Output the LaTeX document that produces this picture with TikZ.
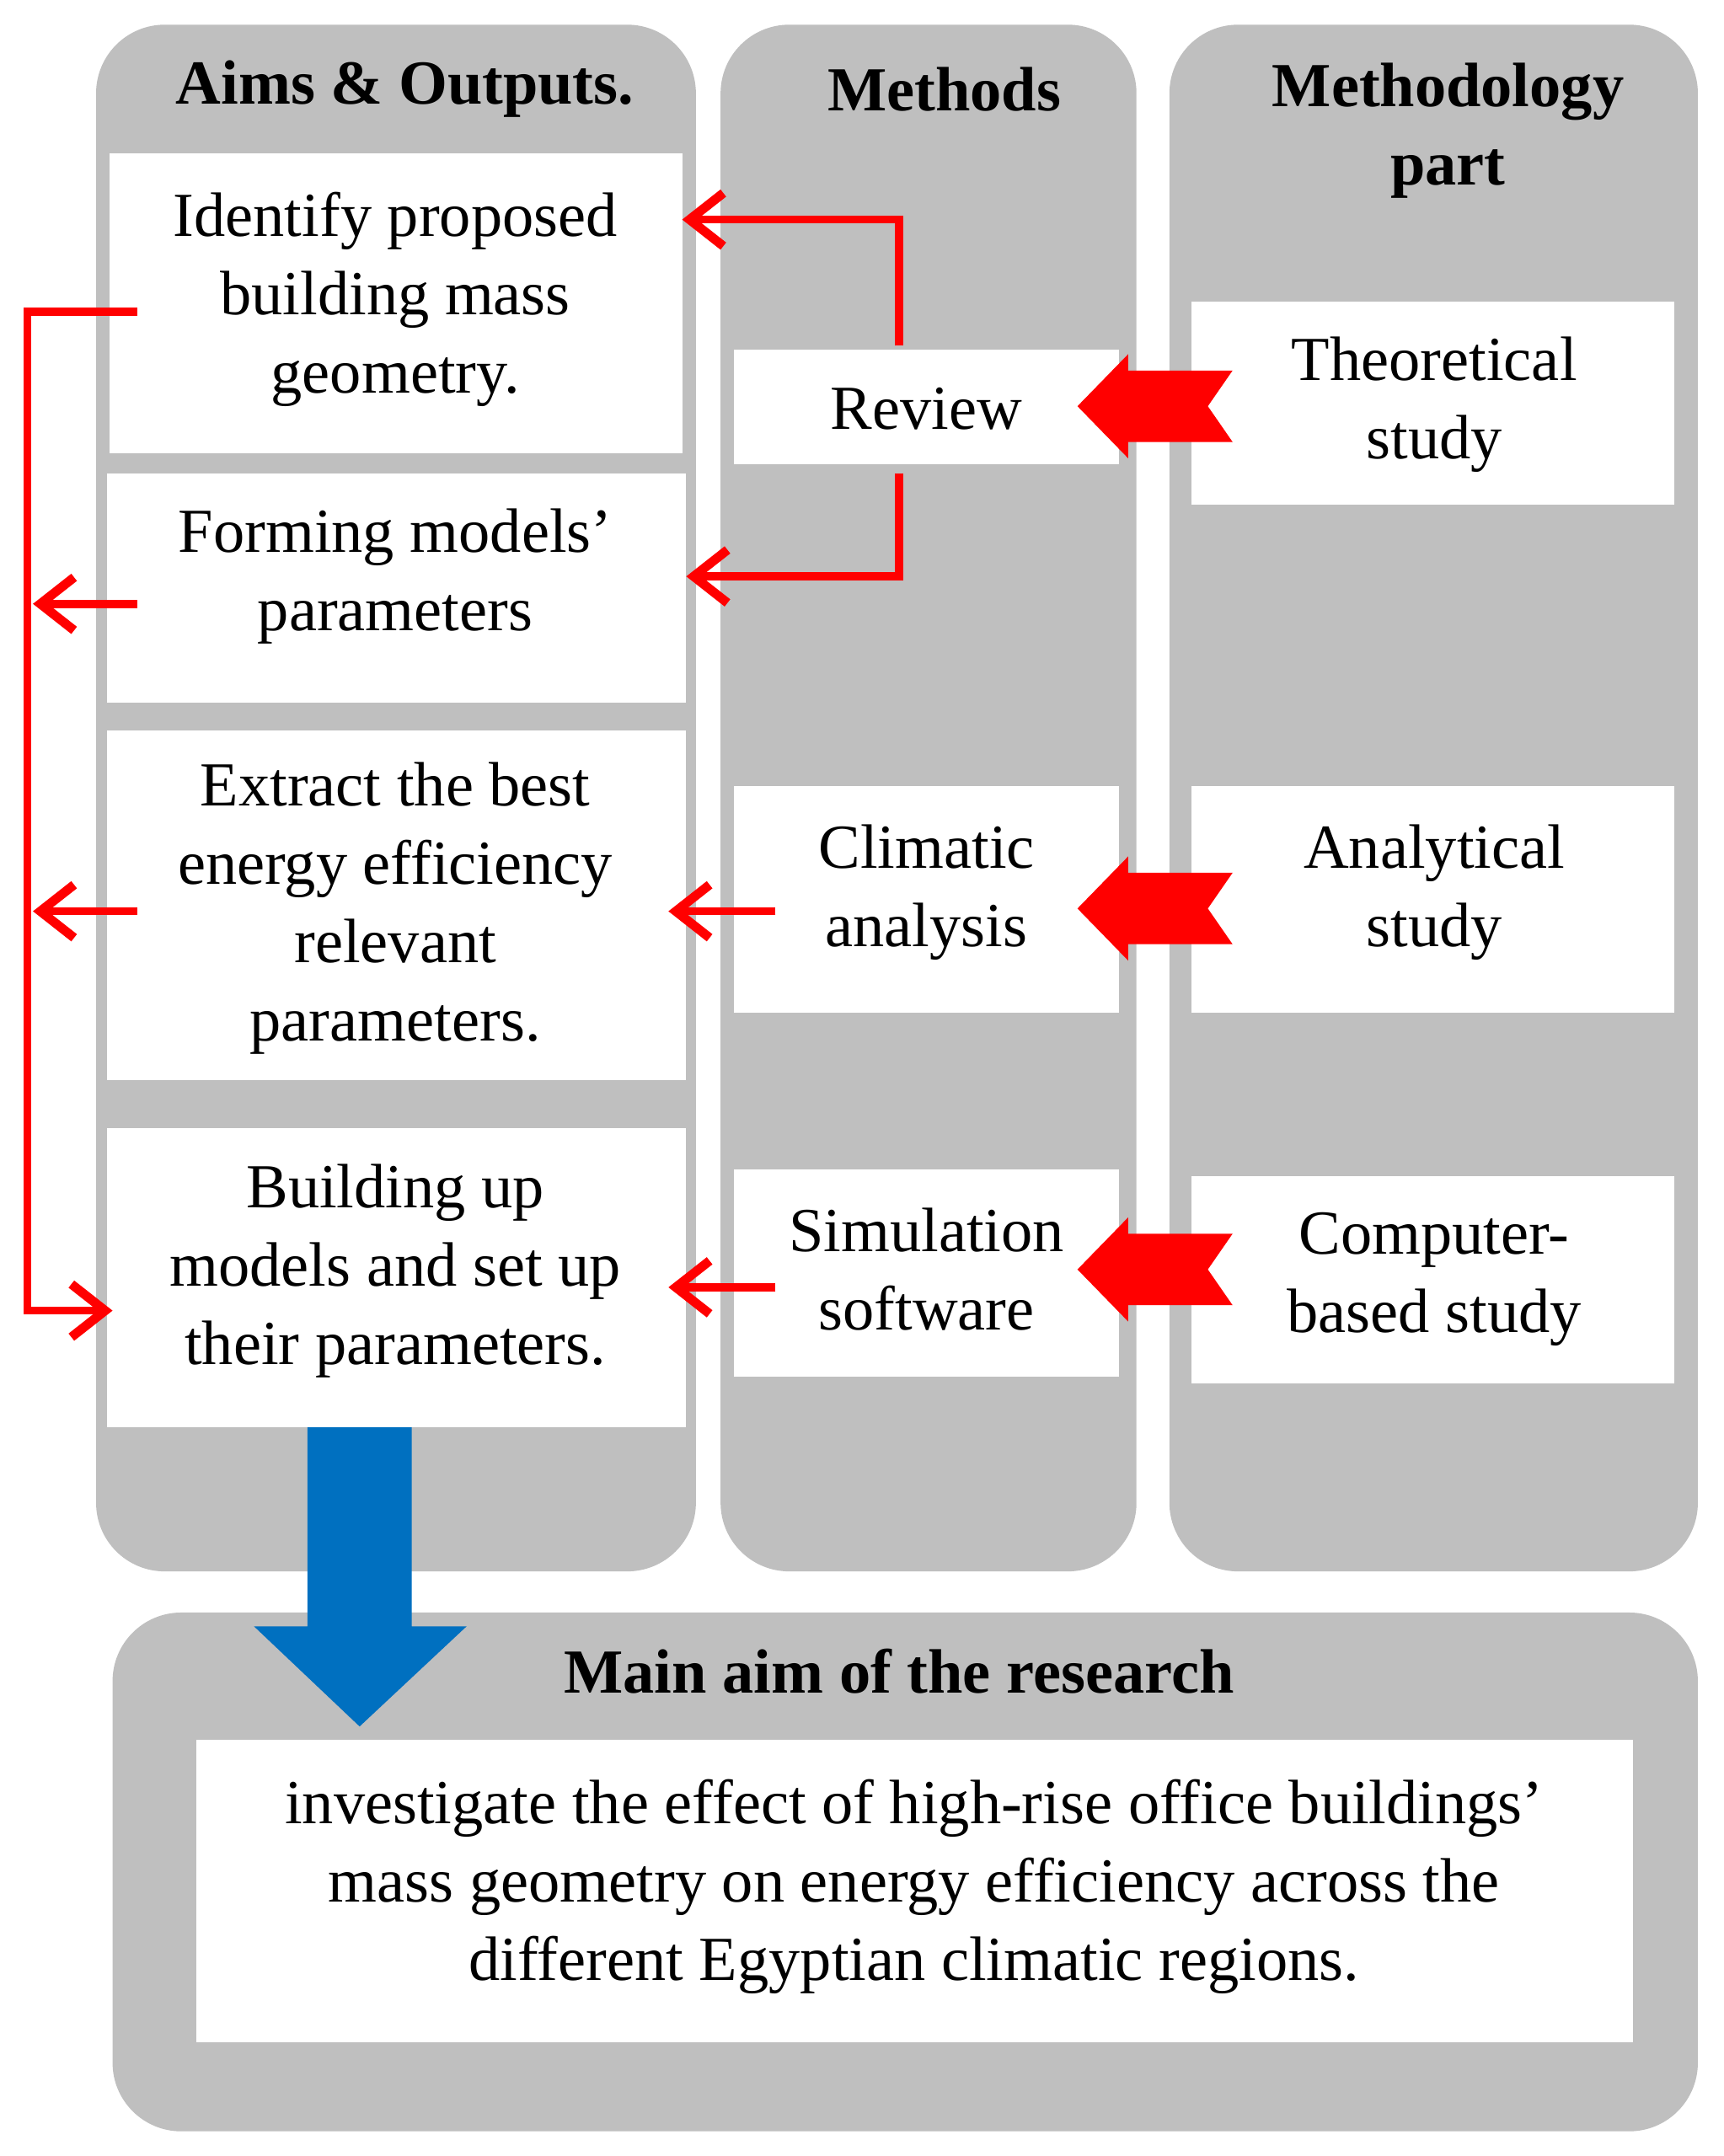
\documentclass[tikz,border=0pt]{standalone}
\usepackage{fontspec}
\setmainfont{Liberation Serif}
\usetikzlibrary{arrows.meta}
\definecolor{panel}{HTML}{BFBFBF}
\definecolor{rd}{HTML}{FF0000}
\definecolor{bl}{HTML}{0070C0}
\begin{document}
\begin{tikzpicture}[x=0.02cm,y=-0.02cm,
  panel/.style={fill=panel,draw=none,rounded corners=1cm},
  wbox/.style={fill=white,draw=none},
  txt/.style={align=center,font=\fontsize{26}{32.5}\selectfont},
  hdr/.style={align=center,font=\fontsize{26}{32.5}\selectfont\bfseries},
  rl/.style={draw=rd,line width=3.4pt},
  ra/.style={rl,-{Straight Barb[length=14pt,width=22pt,line width=3.8pt]}},
  bigr/.style={fill=rd,draw=none}]
\useasboundingbox (0,0) rectangle (1256,1571);
% panels
\path[panel] (70,18) rectangle (507,1145);
\path[panel] (525,18) rectangle (828,1145);
\path[panel] (852,18) rectangle (1237,1145);
\path[panel] (82,1175) rectangle (1237,1553);
% headers
\node[hdr] (h1) at (295,65) {Aims \& Outputs.};
\node[hdr] (h2) at (688,65) {Methods};
\node[hdr] (h3) at (1055,95) {Methodology\\part};
\node[hdr] (h4) at (655,1218) {Main aim of the research};
% white boxes
\path[wbox] (80,112) rectangle (497,330);
\node[txt] (a1) at (288,218) {Identify proposed\\building mass\\geometry.};
\path[wbox] (78,345) rectangle (500,512);
\node[txt] (a2) at (288,420) {Forming models'\\parameters};
\path[wbox] (78,532) rectangle (500,787);
\node[txt] (a3) at (288,662) {Extract the best\\energy efficiency\\relevant\\parameters.};
\path[wbox] (78,822) rectangle (500,1040);
\node[txt] (a4) at (288,926) {Building up\\models and set up\\their parameters.};
\path[wbox] (535,255) rectangle (815,338);
\node[txt] (m1) at (675,298) {Review};
\path[wbox] (535,573) rectangle (815,738);
\node[txt] (m2) at (675,650) {Climatic\\analysis};
\path[wbox] (535,852) rectangle (815,1003);
\node[txt] (m3) at (675,925) {Simulation\\software};
\path[wbox] (868,220) rectangle (1220,368);
\node[txt] (t1) at (1045,295) {Theoretical\\study};
\path[wbox] (868,573) rectangle (1220,738);
\node[txt] (t2) at (1045,650) {Analytical\\study};
\path[wbox] (868,857) rectangle (1220,1008);
\node[txt] (t3) at (1045,932) {Computer-\\based study};
\path[wbox] (143,1268) rectangle (1190,1488);
\node[txt] (b) at (666,1375) {investigate the effect of high-rise office buildings'\\mass geometry on energy efficiency across the\\different Egyptian climatic regions.};
% big red chevron arrows
\foreach \yy in {296,662,925}{
  \fill[bigr] (898,\yy-26) -- (880,\yy) -- (898,\yy+26) -- (822,\yy+26) -- (822,\yy+38) -- (785,\yy) -- (822,\yy-38) -- (822,\yy-26) -- cycle;}
% red connectors
\coordinate (r1) at (655,252); \coordinate (r1b) at (655,160); \coordinate (r1c) at (497,160);
\draw[ra] (r1) -- (r1b) -- (r1c);
\coordinate (r2) at (655,345); \coordinate (r2b) at (655,420); \coordinate (r2c) at (500,420);
\draw[ra] (r2) -- (r2b) -- (r2c);
\coordinate (c1) at (565,664); \coordinate (c2) at (487,664);
\draw[ra] (c1) -- (c2);
\coordinate (s1) at (565,938); \coordinate (s2) at (487,938);
\draw[ra] (s1) -- (s2);
\coordinate (l0) at (100,227); \coordinate (l1) at (20,227); \coordinate (l2) at (20,955); \coordinate (l3) at (82,955);
\draw[ra] (l0) -- (l1) -- (l2) -- (l3);
\coordinate (p1) at (100,440); \coordinate (p1e) at (24,440);
\draw[ra] (p1) -- (p1e);
\coordinate (p2) at (100,664); \coordinate (p2e) at (24,664);
\draw[ra] (p2) -- (p2e);
% blue arrow
\fill[bl] (224,1040) -- (300,1040) -- (300,1185) -- (340,1185) -- (262,1258) -- (185,1185) -- (224,1185) -- cycle;
\end{tikzpicture}
\end{document}
